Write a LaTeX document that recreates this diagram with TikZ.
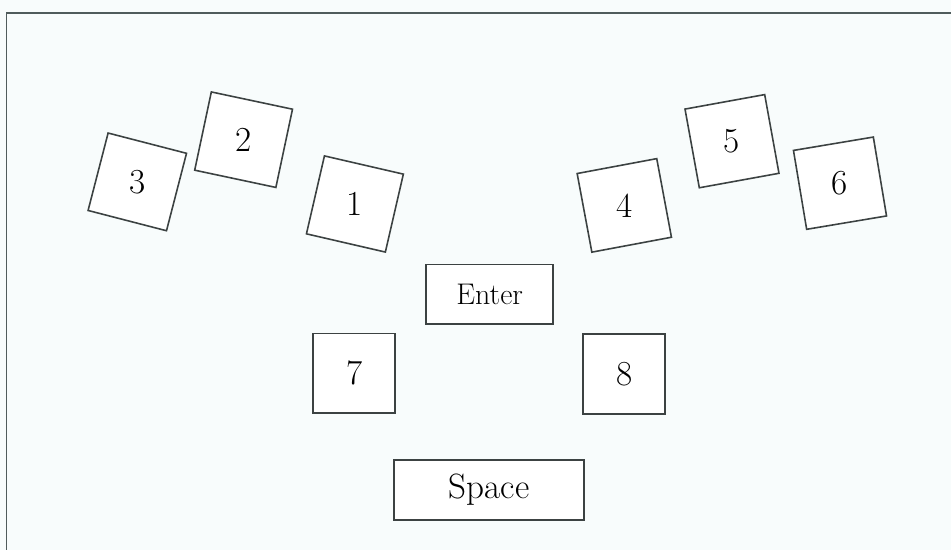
\documentclass[tikz,border=0pt]{standalone}
\usepackage{xcolor}
\usepackage{tikz}

\definecolor{paper}{RGB}{248,252,252}
\definecolor{edge}{RGB}{60,66,66}
\definecolor{framecol}{RGB}{80,92,92}

\begin{document}
\begin{tikzpicture}[
    x=0.02cm, y=0.02cm,
    keysq/.style={draw=edge, line width=0.9pt, fill=white, minimum width=1.62cm, minimum height=1.6cm, inner sep=0pt},
    keywide/.style={draw=edge, line width=0.9pt, fill=white, minimum height=1.2cm, inner sep=0pt},
    keytxt/.style={inner sep=0pt, font=\fontsize{20}{24}\selectfont},
    frame/.style={draw=framecol, line width=1pt}
]

\fill[paper] (0,0) rectangle (951,550);
\useasboundingbox (0,0) rectangle (951,550);
\draw[frame] (6.5,0) |- (951,537);

% left hand keys (tilted box, upright digit)
\node[keysq, rotate=-14.5] (k3) at (137.3,368.1) {};
\node[keysq, rotate=-12, minimum width=1.66cm] (k2) at (243.6,410.3) {};
\node[keysq, rotate=-13] (k1) at (354.9,346) {};
\node[keytxt] (t3) at (k3) {3};
\node[keytxt] (t2) at (k2) {2};
\node[keytxt] (t1) at (k1) {1};

% right hand keys
\node[keysq, rotate=10.6] (k4) at (624.3,344.6) {};
\node[keysq, rotate=10.3] (k5) at (732,408.8) {};
\node[keysq, rotate=9.5] (k6) at (840,366.8) {};
\node[keytxt] (t4) at (k4) {4};
\node[keytxt] (t5) at (k5) {5};
\node[keytxt] (t6) at (k6) {6};

% thumb keys
\node[keywide, minimum width=2.54cm, font=\fontsize{17}{20}\selectfont] (enter) at (489.7,255.7) {Enter};
\node[keysq, minimum width=1.64cm, font=\fontsize{20}{24}\selectfont] (k7) at (354.2,176.7) {7};
\node[keysq, minimum width=1.64cm, font=\fontsize{20}{24}\selectfont] (k8) at (624.2,175.8) {8};
\node[keywide, minimum width=3.8cm, font=\fontsize{20}{24}\selectfont] (space) at (489,60) {Space};

\end{tikzpicture}
\end{document}
